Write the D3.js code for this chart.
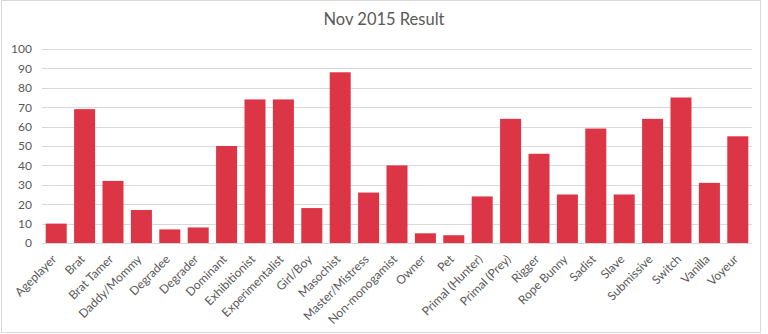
<!DOCTYPE html>
<html>
<head>
<meta charset="utf-8">
<script src="https://cdn.jsdelivr.net/npm/d3@7"></script>
<style>
  body { margin: 0; background: #fff; }
  text { font-family: Lato, "Open Sans", sans-serif; }
</style>
</head>
<body>
<script>
// chart data
var categories = ['Ageplayer', 'Brat', 'Brat Tamer', 'Daddy/Mommy', 'Degradee', 'Degrader', 'Dominant',
  'Exhibitionist', 'Experimentalist', 'Girl/Boy', 'Masochist', 'Master/Mistress', 'Non-monogamist',
  'Owner', 'Pet', 'Primal (Hunter)', 'Primal (Prey)', 'Rigger', 'Rope Bunny', 'Sadist', 'Slave',
  'Submissive', 'Switch', 'Vanilla', 'Voyeur'];
var values = [10, 69, 32, 17, 7, 8, 50, 74, 74, 18, 88, 26, 40, 5, 4, 24, 64, 46, 25, 59, 25, 64, 75, 31, 55];
var yTicks = [0, 10, 20, 30, 40, 50, 60, 70, 80, 90, 100];
var title = 'Nov 2015 Result';

var width = 768, height = 334;
var svg = d3.select('body').append('svg').attr('width', width).attr('height', height);

// outer frame
svg.append('rect').attr('x', 1.5).attr('y', 0.5).attr('width', 759).attr('height', 332)
  .attr('fill', '#fff').attr('stroke', '#d9d9d9');

// plot area (note: 'top' is a reserved window prop, so use plotTop etc)
var plotLeft = 42, plotRight = 752, plotTop = 49, plotBottom = 243;

var x = d3.scaleBand().domain(categories).range([plotLeft, plotRight]).paddingInner(0.26).paddingOuter(0.13);
var y = d3.scaleLinear().domain([0, 100]).range([plotBottom, plotTop]);

// gridlines
svg.append('g').selectAll('line').data(yTicks.filter(function(d) { return d > 0; })).enter()
  .append('line')
  .attr('x1', plotLeft).attr('x2', plotRight)
  .attr('y1', function(d) { return Math.round(y(d)) + 0.5; })
  .attr('y2', function(d) { return Math.round(y(d)) + 0.5; })
  .attr('stroke', '#d9d9d9').attr('stroke-width', 1);

// bars
svg.append('g').selectAll('rect').data(values).enter()
  .append('rect')
  .attr('x', function(d, i) { return x(categories[i]); })
  .attr('y', function(d) { return y(d); })
  .attr('width', x.bandwidth())
  .attr('height', function(d) { return y(0) - y(d); })
  .attr('fill', '#dc3545');

// x axis line
svg.append('line').attr('x1', plotLeft).attr('x2', plotRight)
  .attr('y1', plotBottom + 0.5).attr('y2', plotBottom + 0.5)
  .attr('stroke', '#d9d9d9');

// y axis
var yAxis = svg.append('g').attr('transform', 'translate(' + (plotLeft - 10) + ',0)')
  .call(d3.axisLeft(y).tickValues(yTicks).tickSize(0).tickPadding(0));
yAxis.select('.domain').remove();
yAxis.selectAll('text').attr('fill', '#595959').style('font-size', '12px')
  .style('font-family', 'Lato, "Open Sans", sans-serif');

// x labels
var xAxis = svg.append('g').attr('transform', 'translate(0,' + plotBottom + ')')
  .call(d3.axisBottom(x).tickSize(0).tickPadding(0));
xAxis.select('.domain').remove();
xAxis.selectAll('text')
  .attr('fill', '#595959').style('font-size', '12px')
  .style('font-family', 'Lato, "Open Sans", sans-serif')
  .attr('text-anchor', 'end')
  .attr('dy', null)
  .attr('transform', 'translate(1,17) rotate(-45)');

// title
svg.append('text').attr('x', width / 2).attr('y', 25).attr('text-anchor', 'middle')
  .attr('fill', '#595959').style('font-size', '16.5px').text(title);
</script>
</body>
</html>
